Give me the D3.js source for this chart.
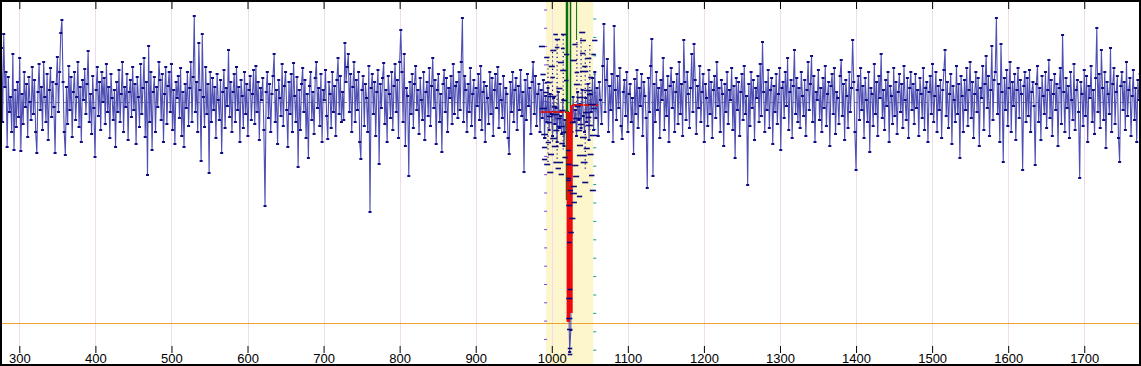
<!DOCTYPE html>
<html>
<head>
<meta charset="utf-8">
<script src="https://cdn.jsdelivr.net/npm/d3@7"></script>
<style>
body { margin: 0; background: #fff; }
svg { display: block; }
</style>
</head>
<body>
<script>
var W = 1141, H = 366;

// series: each segment covers 150 units, one reading every 1.5 units
var SEG_START = 275, SEG_LEN = 150, STEP = 1.5;

var seg0 = [10,54,-20,68,15,30,-45,25,-10,5,-30,48,-48,12,-25,20,-15,44,-49,8,-22,30,-5,18,-35,25,0,-18,35,-12,22,-30,-51,10,38,-8,15,-28,40,5,-20,28,-38,12,34,-15,20,-5,-51,18,45,-10,30,69,82,20,-30,-53,15,-22,36,-8,25,-35,10,30,-18,5,40,-25,15,-40,22,2,33,-12,18,51,-20,8,-32,26,-6,-55,12,35,-14,20,-28,30,0,24,-22,38,-10,15,-36,28,4,-18];
var seg1 = [12,-45,20,-10,32,-20,8,40,-30,15,-5,28,-38,10,22,-15,35,-8,18,-42,25,5,-25,38,-12,14,44,-35,20,-73,56,-20,30,-48,10,25,-30,15,-5,40,22,-18,28,-40,8,35,-22,16,30,-10,38,-28,12,-42,20,4,26,-16,34,-34,10,-45,18,-6,30,-24,14,40,-20,25,86,-10,20,-30,59,12,-59,68,5,-25,35,-12,18,-71,30,-20,24,-8,15,-36,28,2,-18,22,-51,10,32,-26,14,-4];
var seg2 = [52,-15,20,-30,10,28,-20,35,-8,15,-40,22,6,-26,30,-12,18,-34,12,26,-18,8,32,-22,36,-10,20,-38,14,2,24,-28,-104,10,30,-16,18,-30,8,26,48,-20,12,-42,22,4,-14,38,-24,16,30,-8,-45,20,-12,28,-30,39,6,-20,25,-65,12,-28,18,34,-10,22,-36,8,-56,16,30,-18,10,-32,24,40,-6,14,-24,28,-40,12,2,32,-14,-37,20,8,-26,30,-10,16,-34,22,44,-12,26,-20];
var seg3 = [10,-18,59,20,35,48,-10,28,-30,15,40,-20,22,-8,30,-40,-57,12,26,-24,18,4,-30,36,-110,14,28,-12,20,-34,10,32,-62,18,-6,24,39,-22,12,-40,26,8,-16,30,-28,16,38,-10,22,-36,40,72,30,-20,48,-44,14,6,-74,20,-12,28,-26,18,36,-8,12,-32,24,2,-18,30,-38,10,20,-14,34,-24,16,44,-6,22,-42,12,28,-20,8,-50,18,32,-10,24,-30,14,4,26,-22,38,-12,16];
var seg4 = [20,-16,30,-8,40,84,-20,26,12,-30,18,-10,34,-24,8,22,-36,14,-4,28,-18,36,-28,10,20,-40,16,4,-22,30,-12,24,-34,12,28,-6,35,-26,18,2,-16,26,-30,14,8,-36,-52,20,-10,30,-20,12,24,-28,16,-8,32,-14,10,-70,22,-18,28,-4,14,-32,20,40,-12,26,-24,8,18,-30,12,-16,22,-36,6,-20,14,-28,8,-12,-34,4,-22,-6,-40,10,-26,-14,-32,2,-44,-18,-30,-10,-190,-250];
var seg5 = [-228,-30,5,-20,-8,-34,10,-18,-2,-26,12,-14,-30,4,-20,18,-38,8,-10,24,-28,30,-16,14,-34,20,2,-22,36,78,-10,22,43,-30,16,-8,28,-40,76,12,-18,26,-6,34,-24,-37,10,22,-14,30,-30,8,18,-20,4,-52,23,-12,32,-26,14,-4,28,-34,20,6,-16,-86,24,-10,36,63,-74,18,-20,30,-8,14,-36,22,2,44,-28,12,-14,26,-40,16,34,-6,20,-30,10,28,-22,40,-12,18,-34,62];
var seg6 = [20,-18,30,8,-26,14,48,-10,58,22,-32,16,-6,36,-20,10,28,-40,18,4,-24,32,-12,20,-36,12,26,-16,40,-4,14,-30,22,8,-44,18,-10,30,-22,12,2,34,-28,16,-56,24,-8,20,-34,10,28,-18,36,-12,6,-83,18,-24,30,-6,22,-38,14,4,26,-20,38,-14,60,10,-30,20,-8,32,-26,12,24,-42,16,-10,28,-22,8,34,-48,14,20,-16,30,-4,44,-28,10,22,-36,16,52,-12,24,-20];
var seg7 = [14,-26,30,6,-14,22,-34,12,40,-8,18,46,-20,26,-40,10,2,32,-18,14,-30,24,-6,36,-24,8,20,-44,16,28,-12,34,-32,10,4,-22,26,42,-14,18,-38,22,6,-26,30,-10,14,62,20,-30,-68,12,26,-18,34,-8,16,-36,24,2,-20,30,-50,14,8,-24,38,-12,20,-34,26,4,48,-16,12,-28,22,-4,30,-40,16,6,-22,34,-14,20,-32,10,28,-10,18,-26,36,2,-18,24,-36,14,30,-8];
var seg8 = [18,-22,28,-6,12,-34,24,8,-16,34,-28,14,20,-40,10,26,-12,38,-20,6,30,-30,16,-8,22,-36,12,32,52,-14,20,-26,8,28,-42,16,2,-20,36,-12,18,-56,26,6,-30,22,-8,34,-24,12,40,-16,20,-36,8,30,-10,24,-44,14,4,36,-28,18,46,-6,26,-34,12,56,-18,22,30,84,-12,18,-40,58,10,-60,24,-8,32,-24,14,40,-30,20,-4,28,-38,12,34,-16,22,8,-68,16,30,-20];
var seg9 = [24,-14,32,-30,10,20,-4,-63,18,36,-20,14,-38,26,6,-12,30,-26,12,42,-16,22,-34,8,28,-8,18,-44,14,34,-22,67,10,-30,24,-6,16,-36,30,2,-18,38,-28,12,22,-10,-76,20,8,-24,32,-14,26,-40,16,4,36,-20,12,-32,24,74,-10,28,-26,52,14,-18,30,-46,20,8,-12,54,-30,18,34,-22,10,26,-36,-60,16,30,-8,20,-28,40,-14,12,24,-34,6,32,-18,14,-40,22,2,28];
var segments = [seg0, seg1, seg2, seg3, seg4, seg5, seg6, seg7, seg8, seg9];

var xTicks = [300, 400, 500, 600, 700, 800, 900, 1000, 1100, 1200, 1300, 1400, 1500, 1600, 1700];
var meanLevel = 0;
var limitLevel = -221;

// highlighted window around the event
var bandRange = [992.5, 1054.5];
// short marks inside the window: [from, to, level]
var bandDashes = [
  [983,991,56],[1002,1008,68],[1012,1019,68],[1004,1011,63],[1036,1044,70],[1037,1045,62],
  [1053,1060,62],[1004,1010,55],[1012,1017,54],[1037,1044,49],[998,1004,25],[1024,1033,42],
  [1037,1048,31],[1048,1054,25],[987,994,-45],[987,994,-57],[1002,1015,-60],[1033,1046,-53],
  [1033,1041,-43],[994,1002,-70],[1019,1025,-76],[1024,1033,-91],[1023,1031,-116],[1049,1056,-73],
  [1019,1025,-78],[1011,1019,32],[991,1000,20],[1006,1014,14],[1029,1037,18],[1042,1053,12],
  [995,1006,6],[1014,1020,2],[1033,1042,5],[1048,1058,-2],[984,994,-6],[1000,1010,-12],
  [1028,1039,-16],[1041,1050,-10],[992,1000,-20],[1007,1017,-24],[1031,1040,-28],[1045,1054,-23],
  [986,995,-32],[998,1007,-36],[1037,1046,-35],[1010,1017,-41],[1019,1025,-48],[1027,1035,-63],
  [1042,1050,-46],[995,1003,-52],[1006,1013,-16],[1050,1060,-33],[989,996,10],[1019,1027,-103],
  [1025,1033,-84],[1019,1027,-196],[1019,1027,-216],[1020,1027,-227],[1021,1027,-246],
  [1021,1027,-252],[1021,1027,-187],
  [990,997,45],[1008,1016,40],[1027,1034,58],[1044,1052,44],[996,1004,36],[1016,1022,22],
  [1040,1047,36],[1052,1058,48],[985,992,28],[1000,1007,-4],[1010,1018,-8],[1030,1038,-4],
  [1046,1054,8],[993,1001,-14],[1012,1019,-30],[1034,1042,-22],[1000,1009,-44],[1014,1021,-55],
  [1038,1047,-60],[1047,1055,-52],[990,998,-62],[1005,1012,-66],[1028,1036,-74],[1040,1048,-80],
  [1019,1026,-62],[1021,1028,-88],[1026,1033,-100],[1022,1029,-130],[1020,1026,-140],[1033,1040,-94],
  [1050,1058,-88],[1045,1052,-15],[998,1006,52],[1016,1023,48],[1030,1036,30],[1002,1010,-28],
  [1024,1031,-20],[1009,1016,-72],[992,999,-40],[1052,1059,-6]
];
// dotted columns: [position, top, bottom]
var bandDots = [[995,42,-63],[1001,50,-40],[1007,62,-58],[1015,67,-48],[1033,60,-30],[1038.5,64,-18],[1044,52,-68],[1050,57,-28]];
// red bars: [from, to, top, bottom]
var redBars = [[1019.5,1024,-10,-220],[1024,1027.5,-3,-211]];
// red levels: [from, to, level]
var redLevels = [[985.5,1019.5,-10],[1027,1061,-3]];
// green lines: [position, bottom, width]
var greenLines = [[1020,-98,2.5],[1024.6,-103,1.5],[1032.6,62,1]];

var x = d3.scaleLinear().domain([274.6, 1774.6]).range([0, W]);
var y = d3.scaleLinear().domain([-264, 102]).range([H, 0]);

var points = [];
segments.forEach(function(seg, k) {
  seg.forEach(function(v, i) {
    points.push({ u: SEG_START + k * SEG_LEN + i * STEP, v: v });
  });
});

var svg = d3.select("body").append("svg")
  .attr("width", W)
  .attr("height", H);

svg.append("rect").attr("width", W).attr("height", H).attr("fill", "#fff");

// event window
svg.append("rect")
  .attr("x", x(bandRange[0]))
  .attr("y", 0)
  .attr("width", x(bandRange[1]) - x(bandRange[0]))
  .attr("height", H)
  .attr("fill", "#fdf6cc");

// vertical grid
svg.selectAll(".grid").data(xTicks).enter().append("line")
  .attr("x1", function(d) { return Math.round(x(d)) + 0.5; })
  .attr("x2", function(d) { return Math.round(x(d)) + 0.5; })
  .attr("y1", 0).attr("y2", 346)
  .attr("stroke", "#eedbee");

// window scales (left purple, right teal)
var leftScale = d3.scaleLinear().domain([0, 18]).range([9.5, 9.5 + 18.3 * 18]);
var rightScale = d3.scaleLinear().domain([0, 18]).range([18.5, 18.5 + 18.4 * 18]);
svg.append("g")
  .attr("transform", "translate(" + (x(bandRange[0]) + 1) + ",0)")
  .call(d3.axisLeft(leftScale).ticks(18).tickSize(3).tickFormat(""))
  .call(function(g) { g.select(".domain").remove(); g.selectAll("line").attr("stroke", "#7a3fe0"); });
svg.append("g")
  .attr("transform", "translate(" + (x(bandRange[1]) + 0) + ",0)")
  .call(d3.axisRight(rightScale).ticks(18).tickSize(3).tickFormat(""))
  .call(function(g) { g.select(".domain").remove(); g.selectAll("line").attr("stroke", "#14998a"); });

// mean level
svg.append("line")
  .attr("x1", 0).attr("x2", W)
  .attr("y1", Math.round(y(meanLevel)) + 0.5).attr("y2", Math.round(y(meanLevel)) + 0.5)
  .attr("stroke", "#808080")
  .attr("stroke-dasharray", "4,3");

// limit level
svg.append("line")
  .attr("x1", 0).attr("x2", W)
  .attr("y1", Math.round(y(limitLevel)) + 0.5).attr("y2", Math.round(y(limitLevel)) + 0.5)
  .attr("stroke", "#f0a030");

// dotted columns in window
svg.selectAll(".dots").data(bandDots).enter().append("line")
  .attr("x1", function(d) { return x(d[0]); })
  .attr("x2", function(d) { return x(d[0]); })
  .attr("y1", function(d) { return y(d[1]); })
  .attr("y2", function(d) { return y(d[2]); })
  .attr("stroke", "#0a0a80")
  .attr("stroke-width", 1.2)
  .attr("stroke-dasharray", "1.2,3");

// main series
var line = d3.line()
  .x(function(d) { return x(d.u); })
  .y(function(d) { return y(d.v); });

svg.append("path")
  .datum(points)
  .attr("fill", "none")
  .attr("stroke", "#4f4fb3")
  .attr("stroke-width", 1.1)
  .attr("d", line);

svg.selectAll(".pt").data(points).enter().append("rect")
  .attr("x", function(d) { return x(d.u) - 1.5; })
  .attr("y", function(d) { return y(d.v) - 1; })
  .attr("width", 3)
  .attr("height", 2)
  .attr("fill", "#0b0b85");

// green lines
svg.selectAll(".green").data(greenLines).enter().append("line")
  .attr("x1", function(d) { return x(d[0]); })
  .attr("x2", function(d) { return x(d[0]); })
  .attr("y1", 0)
  .attr("y2", function(d) { return y(d[1]); })
  .attr("stroke", "#0a6e0a")
  .attr("stroke-width", function(d) { return d[2]; });

// red bars
svg.selectAll(".redbar").data(redBars).enter().append("rect")
  .attr("x", function(d) { return x(d[0]); })
  .attr("width", function(d) { return x(d[1]) - x(d[0]); })
  .attr("y", function(d) { return y(d[2]); })
  .attr("height", function(d) { return y(d[3]) - y(d[2]); })
  .attr("fill", "#ee0a0a");

svg.selectAll(".redlvl").data(redLevels).enter().append("line")
  .attr("x1", function(d) { return x(d[0]); })
  .attr("x2", function(d) { return x(d[1]); })
  .attr("y1", function(d) { return y(d[2]); })
  .attr("y2", function(d) { return y(d[2]); })
  .attr("stroke", "#e01010")
  .attr("stroke-width", 2)
  .attr("stroke-dasharray", "5,1");

// dashes in window
svg.selectAll(".dash").data(bandDashes).enter().append("line")
  .attr("x1", function(d) { return x(d[0]); })
  .attr("x2", function(d) { return x(d[1]); })
  .attr("y1", function(d) { return Math.round(y(d[2])) + 0.5; })
  .attr("y2", function(d) { return Math.round(y(d[2])) + 0.5; })
  .attr("stroke", "#0a0a80")
  .attr("stroke-width", 1.6);

// axis ticks top and bottom
svg.append("g")
  .attr("transform", "translate(0,0)")
  .call(d3.axisBottom(x).tickValues(xTicks).tickSize(9).tickFormat(""))
  .call(function(g) { g.select(".domain").remove(); g.selectAll("line").attr("stroke", "#000"); });

svg.append("g")
  .attr("transform", "translate(0,346)")
  .call(d3.axisBottom(x).tickValues(xTicks).tickSize(7).tickPadding(1).tickFormat(d3.format("d")))
  .call(function(g) {
    g.select(".domain").remove();
    g.selectAll("line").attr("stroke", "#000");
    g.selectAll("text")
      .attr("fill", "#000")
      .style("font-family", "Liberation Sans, Arial, sans-serif")
      .style("font-size", "13px");
  });

// frame
svg.append("rect")
  .attr("x", 1).attr("y", 1)
  .attr("width", W - 2).attr("height", H - 2)
  .attr("fill", "none")
  .attr("stroke", "#000")
  .attr("stroke-width", 2);
</script>
</body>
</html>
